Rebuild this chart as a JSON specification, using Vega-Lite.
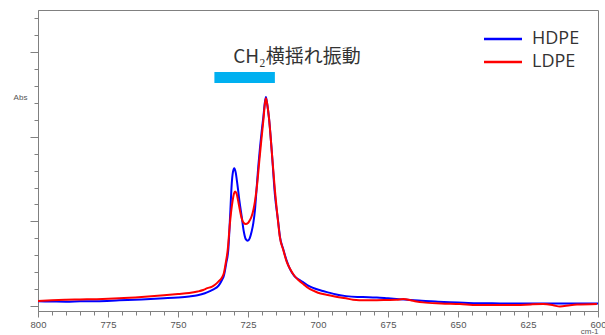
{
  "$schema": "https://vega.github.io/schema/vega-lite/v6.json",
  "width": 560,
  "height": 301,
  "autosize": "none",
  "padding": {"left": 38, "top": 10, "right": 7, "bottom": 24},
  "background": "white",
  "config": {
    "view": {"stroke": "#808080", "strokeWidth": 1},
    "axis": {"grid": false, "domainColor": "#808080", "tickColor": "#808080", "labelColor": "#555555", "labelFont": "Liberation Sans", "labelFontSize": 9.5, "titleFont": "Liberation Sans", "titleFontWeight": "normal", "titleColor": "#555555", "titleFontSize": 8}
  },
  "datasets": {
    "spec": [
      {"s":"HDPE","wn":800,"abs":0.027},{"s":"HDPE","wn":795,"abs":0.026},{"s":"HDPE","wn":790,"abs":0.025},{"s":"HDPE","wn":785,"abs":0.027},{"s":"HDPE","wn":779,"abs":0.028},{"s":"HDPE","wn":771,"abs":0.033},{"s":"HDPE","wn":763,"abs":0.038},{"s":"HDPE","wn":755,"abs":0.045},{"s":"HDPE","wn":750,"abs":0.05},{"s":"HDPE","wn":746,"abs":0.056},{"s":"HDPE","wn":743,"abs":0.063},{"s":"HDPE","wn":740.4,"abs":0.075},{"s":"HDPE","wn":738.6,"abs":0.088},{"s":"HDPE","wn":737.5,"abs":0.097},{"s":"HDPE","wn":735.5,"abs":0.12},{"s":"HDPE","wn":734.3,"abs":0.153},{"s":"HDPE","wn":733.6,"abs":0.18},{"s":"HDPE","wn":732.8,"abs":0.25},{"s":"HDPE","wn":732.0,"abs":0.34},{"s":"HDPE","wn":731.4,"abs":0.528},{"s":"HDPE","wn":730.8,"abs":0.725},{"s":"HDPE","wn":730.4,"abs":0.79},{"s":"HDPE","wn":729.9,"abs":0.814},{"s":"HDPE","wn":729.4,"abs":0.79},{"s":"HDPE","wn":728.8,"abs":0.72},{"s":"HDPE","wn":728.1,"abs":0.626},{"s":"HDPE","wn":727.25,"abs":0.528},{"s":"HDPE","wn":726.5,"abs":0.44},{"s":"HDPE","wn":725.8,"abs":0.395},{"s":"HDPE","wn":725.1,"abs":0.386},{"s":"HDPE","wn":724.4,"abs":0.4},{"s":"HDPE","wn":723.7,"abs":0.44},{"s":"HDPE","wn":723.1,"abs":0.49},{"s":"HDPE","wn":722.5,"abs":0.57},{"s":"HDPE","wn":721.9,"abs":0.7},{"s":"HDPE","wn":721.3,"abs":0.83},{"s":"HDPE","wn":720.7,"abs":0.94},{"s":"HDPE","wn":720.0,"abs":1.05},{"s":"HDPE","wn":719.5,"abs":1.12},{"s":"HDPE","wn":719.0,"abs":1.2},{"s":"HDPE","wn":718.6,"abs":1.236},{"s":"HDPE","wn":718.2,"abs":1.2},{"s":"HDPE","wn":717.5,"abs":1.11},{"s":"HDPE","wn":716.5,"abs":0.912},{"s":"HDPE","wn":715.4,"abs":0.66},{"s":"HDPE","wn":714.2,"abs":0.495},{"s":"HDPE","wn":713.6,"abs":0.41},{"s":"HDPE","wn":712.4,"abs":0.335},{"s":"HDPE","wn":711.2,"abs":0.268},{"s":"HDPE","wn":710.0,"abs":0.218},{"s":"HDPE","wn":708.5,"abs":0.178},{"s":"HDPE","wn":707.0,"abs":0.157},{"s":"HDPE","wn":705.0,"abs":0.137},{"s":"HDPE","wn":703.5,"abs":0.12},{"s":"HDPE","wn":701.7,"abs":0.106},{"s":"HDPE","wn":698.7,"abs":0.09},{"s":"HDPE","wn":695.7,"abs":0.077},{"s":"HDPE","wn":693.9,"abs":0.069},{"s":"HDPE","wn":690,"abs":0.058},{"s":"HDPE","wn":686,"abs":0.053},{"s":"HDPE","wn":682,"abs":0.052},{"s":"HDPE","wn":679,"abs":0.05},{"s":"HDPE","wn":675,"abs":0.045},{"s":"HDPE","wn":671,"abs":0.04},{"s":"HDPE","wn":667,"abs":0.035},{"s":"HDPE","wn":663,"abs":0.03},{"s":"HDPE","wn":658,"abs":0.026},{"s":"HDPE","wn":653,"abs":0.022},{"s":"HDPE","wn":648,"abs":0.019},{"s":"HDPE","wn":643,"abs":0.016},{"s":"HDPE","wn":635,"abs":0.015},{"s":"HDPE","wn":628,"abs":0.015},{"s":"HDPE","wn":620,"abs":0.014},{"s":"HDPE","wn":613,"abs":0.014},{"s":"HDPE","wn":607,"abs":0.014},{"s":"HDPE","wn":600,"abs":0.014},
      {"s":"LDPE","wn":800,"abs":0.029},{"s":"LDPE","wn":795,"abs":0.033},{"s":"LDPE","wn":790,"abs":0.036},{"s":"LDPE","wn":785,"abs":0.038},{"s":"LDPE","wn":779,"abs":0.04},{"s":"LDPE","wn":771,"abs":0.045},{"s":"LDPE","wn":763,"abs":0.053},{"s":"LDPE","wn":755,"abs":0.063},{"s":"LDPE","wn":750,"abs":0.07},{"s":"LDPE","wn":746,"abs":0.076},{"s":"LDPE","wn":743,"abs":0.085},{"s":"LDPE","wn":741,"abs":0.094},{"s":"LDPE","wn":739.5,"abs":0.105},{"s":"LDPE","wn":738,"abs":0.113},{"s":"LDPE","wn":736.8,"abs":0.125},{"s":"LDPE","wn":735.5,"abs":0.145},{"s":"LDPE","wn":734.3,"abs":0.168},{"s":"LDPE","wn":733.6,"abs":0.195},{"s":"LDPE","wn":733.0,"abs":0.25},{"s":"LDPE","wn":732.25,"abs":0.331},{"s":"LDPE","wn":731.5,"abs":0.48},{"s":"LDPE","wn":731.0,"abs":0.56},{"s":"LDPE","wn":730.46,"abs":0.626},{"s":"LDPE","wn":730.0,"abs":0.665},{"s":"LDPE","wn":729.6,"abs":0.676},{"s":"LDPE","wn":729.1,"abs":0.665},{"s":"LDPE","wn":728.5,"abs":0.62},{"s":"LDPE","wn":727.9,"abs":0.567},{"s":"LDPE","wn":727.3,"abs":0.52},{"s":"LDPE","wn":726.5,"abs":0.49},{"s":"LDPE","wn":725.8,"abs":0.484},{"s":"LDPE","wn":725.0,"abs":0.49},{"s":"LDPE","wn":724.3,"abs":0.508},{"s":"LDPE","wn":723.7,"abs":0.53},{"s":"LDPE","wn":722.5,"abs":0.62},{"s":"LDPE","wn":721.7,"abs":0.725},{"s":"LDPE","wn":721.0,"abs":0.85},{"s":"LDPE","wn":720.3,"abs":0.97},{"s":"LDPE","wn":719.5,"abs":1.1},{"s":"LDPE","wn":719.0,"abs":1.19},{"s":"LDPE","wn":718.6,"abs":1.228},{"s":"LDPE","wn":718.2,"abs":1.2},{"s":"LDPE","wn":717.5,"abs":1.11},{"s":"LDPE","wn":716.5,"abs":0.912},{"s":"LDPE","wn":715.4,"abs":0.686},{"s":"LDPE","wn":714.2,"abs":0.489},{"s":"LDPE","wn":713.6,"abs":0.405},{"s":"LDPE","wn":712.4,"abs":0.331},{"s":"LDPE","wn":711.2,"abs":0.262},{"s":"LDPE","wn":710.0,"abs":0.22},{"s":"LDPE","wn":708.5,"abs":0.18},{"s":"LDPE","wn":707.0,"abs":0.153},{"s":"LDPE","wn":705.0,"abs":0.126},{"s":"LDPE","wn":703.5,"abs":0.106},{"s":"LDPE","wn":701.7,"abs":0.09},{"s":"LDPE","wn":700.0,"abs":0.078},{"s":"LDPE","wn":697,"abs":0.066},{"s":"LDPE","wn":694,"abs":0.056},{"s":"LDPE","wn":690,"abs":0.045},{"s":"LDPE","wn":687.5,"abs":0.037},{"s":"LDPE","wn":683,"abs":0.034},{"s":"LDPE","wn":679,"abs":0.034},{"s":"LDPE","wn":675.4,"abs":0.035},{"s":"LDPE","wn":672,"abs":0.036},{"s":"LDPE","wn":669.6,"abs":0.041},{"s":"LDPE","wn":666,"abs":0.03},{"s":"LDPE","wn":662.5,"abs":0.021},{"s":"LDPE","wn":656,"abs":0.015},{"s":"LDPE","wn":649.3,"abs":0.011},{"s":"LDPE","wn":643.2,"abs":0.005},{"s":"LDPE","wn":636,"abs":0.006},{"s":"LDPE","wn":628.9,"abs":0.005},{"s":"LDPE","wn":624,"abs":0.009},{"s":"LDPE","wn":619.6,"abs":0.011},{"s":"LDPE","wn":616,"abs":0.004},{"s":"LDPE","wn":613.6,"abs":-0.004},{"s":"LDPE","wn":610,"abs":0.004},{"s":"LDPE","wn":607.5,"abs":0.008},{"s":"LDPE","wn":600.4,"abs":0.012}
    ]
  },
  "encoding": {
    "x": {
      "type": "quantitative",
      "scale": {"domain": [600, 800], "reverse": true, "nice": false, "zero": false},
      "axis": {
        "title": "cm-1",
        "titleAnchor": "end", "titleAlign": "right", "titleBaseline": "bottom", "titleX": 560, "titleY": 24,
        "values": [600,605,610,615,620,625,630,635,640,645,650,655,660,665,670,675,680,685,690,695,700,705,710,715,720,725,730,735,740,745,750,755,760,765,770,775,780,785,790,795,800],
        "labelExpr": "datum.value % 25 === 0 ? datum.label : ''",
        "tickSize": {"condition": {"test": "datum.value % 25 === 0", "value": 6}, "value": 4},
        "labelPadding": 2,
        "labelFlush": false
      }
    },
    "y": {
      "type": "quantitative",
      "scale": {"domain": [-0.03, 1.75], "nice": false, "zero": false},
      "axis": {
        "title": "Abs", "titleAngle": 0, "titleX": -18, "titleY": 87, "titleAlign": "center", "titleBaseline": "middle",
        "labels": false,
        "values": [0,0.1,0.2,0.3,0.4,0.5,0.6,0.7,0.8,0.9,1.0,1.1,1.2,1.3,1.4,1.5,1.6,1.7],
        "tickSize": {"condition": {"test": "abs(datum.value*2 - round(datum.value*2)) < 0.001", "value": 8}, "value": 4}
      }
    }
  },
  "layer": [
    {
      "data": {"name": "spec"},
      "mark": {"type": "line", "strokeWidth": 2, "interpolate": "monotone", "clip": true},
      "encoding": {
        "x": {"field": "wn"},
        "y": {"field": "abs"},
        "color": {
          "field": "s", "type": "nominal",
          "scale": {"domain": ["HDPE", "LDPE"], "range": ["#0000FF", "#FF0000"]},
          "legend": {
            "title": null, "orient": "none", "legendX": 451, "legendY": 15,
            "symbolType": "M-1.52,0H1.52", "symbolSize": 625, "symbolStrokeWidth": 2.5,
            "labelFont": "Open Sans", "labelFontSize": 18, "labelColor": "#333333",
            "rowPadding": 0, "labelOffset": 15
          }
        }
      }
    },
    {
      "data": {"values": [{}]},
      "mark": {"type": "rect", "color": "#00B0F0"},
      "encoding": {
        "x": {"datum": 737}, "x2": {"datum": 715.4},
        "y": {"datum": 1.383}, "y2": {"datum": 1.318}
      }
    },
    {
      "data": {"values": [{}]},
      "mark": {"type": "text", "align": "left", "baseline": "middle", "font": "Noto Sans CJK JP", "fontSize": 19, "color": "#333333"},
      "encoding": {
        "x": {"datum": 730.3}, "y": {"datum": 1.47},
        "text": {"value": "CH₂横揺れ振動"}
      }
    }
  ]
}
